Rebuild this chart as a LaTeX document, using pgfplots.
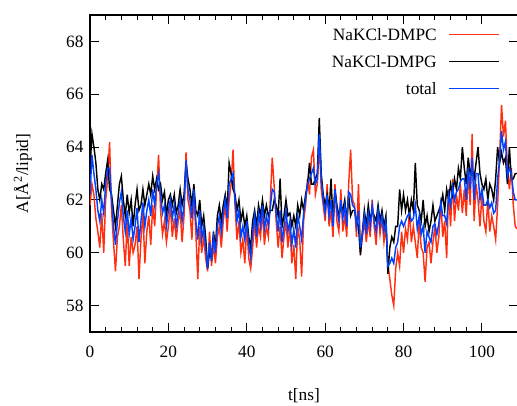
\documentclass[border=0pt]{standalone}
\usepackage{pgfplots}
\usepackage{pgfplotstable}
\usepackage{fontspec}
\setmainfont{Liberation Serif}
\pgfplotsset{compat=1.18}
\definecolor{cpc}{RGB}{255,48,16}
\definecolor{cpg}{RGB}{0,0,0}
\definecolor{ctot}{RGB}{0,64,255}

\pgfplotstableread{
t pc pg tot
0 61.8 63.2 62.2
0.5 62.6 64.5 63.7
1 62.2 64.0 63.0
1.5 61.3 63.4 62.4
2 60.8 62.4 61.6
2.5 60.2 62.0 61.2
3 61.5 62.6 62.0
3.5 60.0 62.4 61.5
4 62.0 63.0 62.6
4.5 62.8 63.5 63.2
5 64.2 62.4 63.2
5.5 61.6 62.2 62.0
6 60.4 61.6 61.0
6.5 59.3 61.0 60.3
7 60.6 61.8 61.2
7.5 61.0 62.6 61.9
8 61.8 62.9 62.3
8.5 60.5 62.0 61.4
9 59.5 61.4 60.8
9.5 61.2 62.2 61.6
10 59.5 61.5 60.7
10.5 60.6 62.0 61.3
11 60.0 61.0 60.5
11.5 60.3 61.8 61.0
12 61.0 62.4 61.7
12.5 59.0 61.6 60.4
13 60.5 61.8 61.2
13.5 61.5 62.4 61.9
14 59.6 61.8 61.0
14.5 60.8 62.2 61.6
15 61.4 62.6 62.0
15.5 60.3 62.2 61.4
16 61.8 62.9 62.4
16.5 61.0 62.4 61.8
17 62.4 62.8 62.6
17.5 63.7 62.4 63.0
18 61.6 62.6 62.2
18.5 60.7 62.0 61.5
19 61.2 62.3 61.8
19.5 60.4 61.4 61.0
20 61.0 62.0 61.6
20.5 61.8 62.2 62.0
21 60.6 61.8 61.3
21.5 61.3 62.2 61.8
22 60.5 61.5 61.0
22.5 61.2 61.8 61.5
23 61.6 62.4 62.0
23.5 60.4 61.8 61.2
24 61.4 62.2 61.8
24.5 63.8 63.4 63.5
25 62.0 62.8 62.4
25.5 61.6 62.4 62.0
26 60.5 61.8 61.3
26.5 62.2 62.6 62.4
27 60.8 61.6 61.2
27.5 59.0 61.4 60.5
28 61.0 62.0 61.6
28.5 60.0 61.0 60.5
29 60.6 61.4 61.0
29.5 59.8 60.6 60.2
30 59.3 59.4 59.4
30.5 60.8 60.0 60.4
31 59.5 59.8 59.7
31.5 60.3 60.8 60.6
32 59.6 60.2 60.0
32.5 60.6 61.4 61.0
33 61.0 61.8 61.4
33.5 60.2 61.2 60.8
34 61.2 61.8 61.5
34.5 61.8 62.2 62.0
35 60.8 61.6 61.3
35.5 62.0 63.4 62.6
36 62.6 63.0 62.8
36.5 63.9 62.4 63.0
37 61.8 62.2 62.0
37.5 60.5 61.6 61.2
38 61.2 62.0 61.6
38.5 60.0 61.2 60.6
39 60.5 61.6 61.0
39.5 59.6 61.0 60.5
40 61.0 61.4 61.2
40.5 59.8 60.6 60.3
41 59.4 60.2 59.8
41.5 60.2 61.2 60.8
42 61.2 61.6 61.4
42.5 60.2 61.0 60.6
43 61.0 61.8 61.5
43.5 60.6 61.4 61.0
44 61.6 62.0 61.8
44.5 60.3 61.4 60.9
45 61.0 61.8 61.4
45.5 60.6 61.4 61.0
46 62.0 61.6 61.7
46.5 63.6 61.6 62.4
47 62.5 62.0 62.3
47.5 61.2 61.8 61.5
48 60.2 61.4 60.8
48.5 61.0 62.8 61.6
49 59.8 61.0 60.4
49.5 60.6 61.4 61.0
50 61.2 62.0 61.6
50.5 60.2 61.4 60.8
51 61.0 61.5 61.2
51.5 59.6 61.0 60.3
52 60.3 61.4 60.9
52.5 59.0 61.0 60.2
53 61.0 61.8 61.4
53.5 60.5 61.4 61.0
54 59.1 62.0 60.5
54.5 61.2 61.6 61.5
55 61.8 62.2 62.0
55.5 62.8 62.6 62.6
56 62.2 63.4 62.8
56.5 63.6 62.6 63.0
57 63.9 62.6 63.2
57.5 62.2 62.8 62.6
58 62.6 63.0 62.8
58.5 64.2 65.1 64.5
59 62.4 63.0 62.8
59.5 61.8 62.2 62.0
60 61.2 61.8 61.5
60.5 62.6 62.2 62.2
61 61.0 61.6 61.4
61.5 61.6 62.8 62.0
62 60.6 61.2 61.0
62.5 62.6 62.4 62.4
63 61.2 61.8 61.6
63.5 60.8 61.4 61.2
64 62.4 61.8 62.0
64.5 60.8 61.6 61.3
65 61.4 62.0 61.8
65.5 60.6 61.2 61.0
66 62.6 62.2 62.3
66.5 63.9 61.4 62.2
67 62.0 61.6 61.8
67.5 61.8 61.6 61.7
68 60.6 61.2 61.0
68.5 62.6 61.0 61.6
69 60.0 59.9 60.2
69.5 60.6 60.8 60.7
70 61.2 61.6 61.4
70.5 60.4 61.0 60.7
71 61.2 61.8 61.5
71.5 60.6 61.2 61.0
72 62.0 61.6 61.8
72.5 61.0 61.4 61.2
73 60.3 61.2 60.8
73.5 61.6 61.8 61.6
74 60.7 61.2 61.0
74.5 61.3 61.6 61.4
75 60.4 61.0 60.8
75.5 61.0 61.4 61.2
76 59.6 59.2 59.5
76.5 59.0 60.2 59.6
77 58.4 60.6 59.8
77.5 58.0 60.4 59.6
78 59.4 61.0 60.2
78.5 60.0 61.0 60.4
79 59.5 62.4 61.0
79.5 60.8 61.6 61.2
80 60.0 62.2 61.0
80.5 60.9 61.6 61.2
81 60.5 62.0 61.4
81.5 61.6 61.4 61.5
82 60.4 62.0 61.2
82.5 61.0 61.6 61.3
83 60.4 63.4 61.8
83.5 59.8 61.8 60.9
84 61.2 61.6 61.4
84.5 60.2 61.2 60.7
85 60.0 62.0 61.0
85.5 58.9 61.0 60.0
86 60.2 61.4 60.8
86.5 60.4 60.8 60.6
87 59.6 61.2 60.4
87.5 60.4 61.8 61.0
88 61.0 61.2 61.1
88.5 60.0 61.4 60.7
89 60.6 61.6 61.1
89.5 62.0 61.8 61.9
90 60.6 62.2 61.4
90.5 61.2 61.6 61.4
91 59.8 62.4 61.1
91.5 62.4 62.0 62.2
92 61.0 62.6 61.8
92.5 62.8 62.2 62.5
93 61.2 62.8 62.0
93.5 62.2 62.4 62.3
94 61.6 63.2 62.4
94.5 62.6 62.8 62.7
95 61.5 64.0 62.8
95.5 62.4 63.2 62.8
96 61.4 62.6 62.0
96.5 63.0 63.6 63.2
97 61.8 63.0 62.4
97.5 64.5 63.2 63.6
98 61.2 62.8 62.0
98.5 62.6 63.4 63.0
99 62.0 64.0 63.0
99.5 61.0 63.0 62.0
100 62.2 62.6 62.4
100.5 61.2 62.4 61.8
101 60.8 62.8 61.8
101.5 62.0 62.0 62.0
102 60.8 62.6 61.7
102.5 61.4 62.4 61.9
103 61.0 62.0 61.5
103.5 60.5 62.8 61.6
104 61.8 64.0 62.8
104.5 63.6 63.4 63.5
105 65.6 63.8 64.6
105.5 64.4 63.4 63.9
106 65.0 63.6 64.2
106.5 63.2 62.6 62.9
107 62.4 64.0 63.2
107.5 63.2 62.8 63.0
108 61.8 62.8 62.3
108.5 61.0 63.0 62.0
109 60.9 63.0 62.0
}\data

\begin{document}
\begin{tikzpicture}[font=\fontsize{17.3}{20}\selectfont]
\begin{axis}[
  scale only axis, width=428pt, height=317pt,
  xmin=0, xmax=109.2, ymin=57, ymax=69,
  xtick={0,20,...,100}, minor x tick num=4,
  ytick={58,60,...,68},
  tick align=inside,
  major tick length=9pt, minor tick length=5pt,
  every tick/.style={black, line width=1pt},
  axis line style={line width=1.2pt},
  /pgf/number format/assume math mode=true,
  every tick label/.append style={font=\fontsize{17.3}{20}\selectfont},
  label style={font=\fontsize{17.3}{20}\selectfont},
  xticklabel style={yshift=-10pt},
  yticklabel style={xshift=-3pt},
  xlabel={t[ns]},
  ylabel={A[Å\textsuperscript{2}/lipid]},
  xlabel style={at={(axis description cs:0.5,-0.202)}, anchor=center},
  ylabel style={at={(axis description cs:-0.157,0.5)}, anchor=center},
  legend style={draw=none, fill=none, font=\fontsize{17.3}{20}\selectfont,
    at={(rel axis cs:0.965,0.972)}, anchor=north east, row sep=9.5pt},
  legend cell align=right,
  legend plot pos=right,
  legend image code/.code={\path (0pt,0pt); \draw[#1, line width=0.8pt] (10pt,0pt) -- (60pt,0pt);},
]
\addplot[color=cpc, line width=1.45pt, no marks] table[x=t,y=pc]{\data};
\addlegendentry{NaKCl-DMPC}
\addplot[color=cpg, line width=1.45pt, no marks] table[x=t,y=pg]{\data};
\addlegendentry{NaKCl-DMPG}
\addplot[color=ctot, line width=1.45pt, no marks] table[x=t,y=tot]{\data};
\addlegendentry{total}
\coordinate (bl) at (rel axis cs:0,0);
\coordinate (tr) at (rel axis cs:1,1);
\end{axis}
\pgfresetboundingbox
\path ([shift={(-90pt,-74pt)}]bl) rectangle ([shift={(-1pt,15pt)}]tr);
\end{tikzpicture}
\end{document}
